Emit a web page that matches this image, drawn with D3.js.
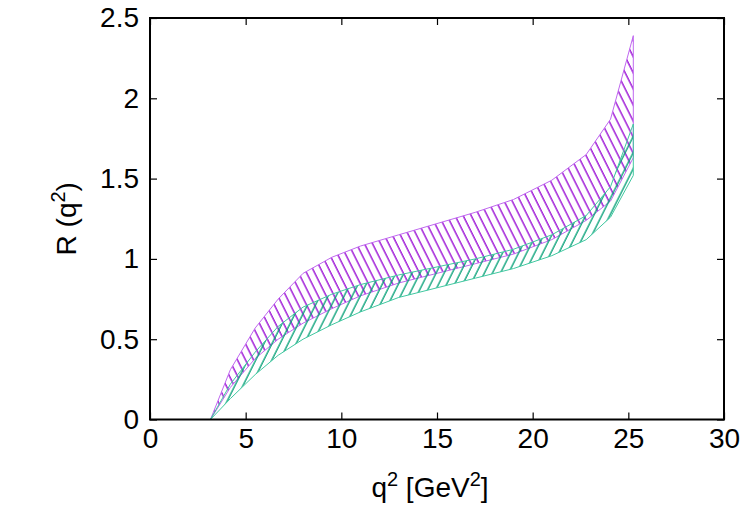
<!DOCTYPE html>
<html>
  <head>
    <meta charset="utf-8">
    <title>R(q2)</title>
    <script type="text/javascript" src="https://cdn.jsdelivr.net/npm/d3@7"></script>
    <style type='text/css'>
      body { margin: 0; background: white; }
      text { font-family: "Liberation Sans", Arial, sans-serif; fill: black; }
    </style>
  </head>
  <body>
    <script type="text/javascript">
      var w = 750;
      var h = 525;

      // q^2 grid and band edges
      var q2 = [3.16, 4.2, 5.5, 6.7, 8.0, 9.5, 11.0, 13.0, 15.0, 17.0, 19.0, 21.0, 22.8, 24.07, 25.26];
      var purpleUpper = [0, 0.31, 0.57, 0.75, 0.91, 1.01, 1.08, 1.15, 1.22, 1.29, 1.37, 1.49, 1.65, 1.87, 2.39];
      var purpleLower = [0, 0.20, 0.38, 0.50, 0.60, 0.69, 0.77, 0.85, 0.91, 0.97, 1.03, 1.12, 1.24, 1.36, 1.63];
      var greenUpper  = [0, 0.22, 0.42, 0.58, 0.70, 0.78, 0.84, 0.90, 0.95, 1.00, 1.06, 1.15, 1.27, 1.45, 1.84];
      var greenLower  = [0, 0.13, 0.28, 0.40, 0.50, 0.59, 0.67, 0.76, 0.82, 0.88, 0.94, 1.02, 1.12, 1.26, 1.52];

      var xTicks = [0, 5, 10, 15, 20, 25, 30];
      var yTicks = [0, 0.5, 1, 1.5, 2, 2.5];

      var pLeft = 150, pRight = 724, pTop = 18, pBottom = 419.5;

      var x = d3.scaleLinear().domain([0, 30]).range([pLeft, pRight]);
      var y = d3.scaleLinear().domain([0, 2.5]).range([pBottom, pTop]);

      var svg = d3.select('body')
                  .append('svg')
                  .attr('width', w)
                  .attr('height', h);

      // hatch patterns (steep lines, purple "\" and green "/")
      var defs = svg.append('defs');
      function hatch(id, color, angle) {
        var p = defs.append('pattern')
          .attr('id', id)
          .attr('patternUnits', 'userSpaceOnUse')
          .attr('width', 7.2)
          .attr('height', 10)
          .attr('patternTransform', 'rotate(' + angle + ')');
        p.append('line')
          .attr('x1', 1).attr('y1', 0)
          .attr('x2', 1).attr('y2', 10)
          .attr('stroke', color)
          .attr('stroke-width', 1.3);
      }
      hatch('hatchPurple', '#9400d3', -26.57);
      hatch('hatchGreen', '#009e73', 26.57);

      var idx = d3.range(q2.length);

      function band(upper, lower, pat, edge) {
        var area = d3.area()
          .x(function(i) { return x(q2[i]); })
          .y0(function(i) { return y(lower[i]); })
          .y1(function(i) { return y(upper[i]); });
        svg.append('path')
          .datum(idx)
          .attr('d', area)
          .attr('fill', 'url(#' + pat + ')')
          .attr('stroke', edge)
          .attr('stroke-width', 1)
          .attr('stroke-linejoin', 'miter');
      }
      band(purpleUpper, purpleLower, 'hatchPurple', '#c068f0');
      band(greenUpper, greenLower, 'hatchGreen', '#40c8a0');

      // axes, ticks pointing inwards on all four sides
      svg.append('g')
        .attr('transform', 'translate(0,' + pBottom + ')')
        .call(d3.axisBottom(x).tickValues(xTicks).tickSize(-7).tickPadding(9))
        .call(function(g) {
          g.select('.domain').remove();
          g.selectAll('text').attr('font-size', '28px').attr('font-family', '"Liberation Sans", Arial, sans-serif');
        });

      svg.append('g')
        .attr('transform', 'translate(' + pLeft + ',0)')
        .call(d3.axisLeft(y).tickValues(yTicks).tickSize(-7).tickPadding(11).tickFormat(d3.format('')))
        .call(function(g) {
          g.select('.domain').remove();
          g.selectAll('text').attr('font-size', '28px').attr('font-family', '"Liberation Sans", Arial, sans-serif');
        });

      svg.append('g')
        .attr('transform', 'translate(0,' + pTop + ')')
        .call(d3.axisTop(x).tickValues(xTicks).tickSize(-7).tickFormat(''))
        .call(function(g) { g.select('.domain').remove(); });

      svg.append('g')
        .attr('transform', 'translate(' + pRight + ',0)')
        .call(d3.axisRight(y).tickValues(yTicks).tickSize(-7).tickFormat(''))
        .call(function(g) { g.select('.domain').remove(); });

      svg.selectAll('.tick line').attr('stroke', '#000').attr('stroke-width', 1.2);

      svg.append('rect')
        .attr('x', pLeft)
        .attr('y', pTop)
        .attr('width', pRight - pLeft)
        .attr('height', pBottom - pTop)
        .attr('fill', 'none')
        .attr('stroke', 'black')
        .attr('stroke-width', 2);

      // axis titles
      var xt = svg.append('text')
        .attr('x', (pLeft + pRight) / 2 - 7)
        .attr('y', 497)
        .attr('text-anchor', 'middle')
        .attr('font-size', '28px');
      xt.append('tspan').text('q');
      xt.append('tspan').attr('dy', -11).attr('font-size', '20px').text('2');
      xt.append('tspan').attr('dy', 11).text(' [GeV');
      xt.append('tspan').attr('dy', -11).attr('font-size', '20px').text('2');
      xt.append('tspan').attr('dy', 11).text(']');

      var yt = svg.append('text')
        .attr('transform', 'translate(76,' + ((pTop + pBottom) / 2) + ') rotate(-90)')
        .attr('text-anchor', 'middle')
        .attr('font-size', '28px');
      yt.append('tspan').text('R (q');
      yt.append('tspan').attr('dy', -11).attr('font-size', '20px').text('2');
      yt.append('tspan').attr('dy', 11).text(')');
    </script>
  </body>
</html>
